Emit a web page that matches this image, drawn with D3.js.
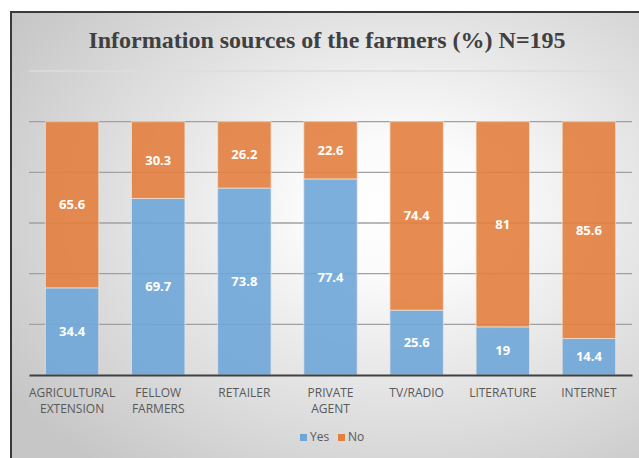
<!DOCTYPE html>
<html>
<head>
<meta charset="utf-8">
<script src="https://cdn.jsdelivr.net/npm/d3@7"></script>
<style>
  body { margin: 0; background: #fff; }
  svg { display: block; }
</style>
</head>
<body>
<svg class="chart"></svg>
<script>
var categories = ["AGRICULTURAL EXTENSION", "FELLOW FARMERS", "RETAILER", "PRIVATE AGENT", "TV/RADIO", "LITERATURE", "INTERNET"];
var yesValues = [34.4, 69.7, 73.8, 77.4, 25.6, 19, 14.4];
var noValues = [65.6, 30.3, 26.2, 22.6, 74.4, 81, 85.6];
var seriesNames = ["Yes", "No"];
var yTicks = [0, 20, 40, 60, 80, 100, 120];

var W = 639, H = 458;
var margin = {top: 71, right: 7, bottom: 83, left: 29};
var width = W - margin.left - margin.right;
var height = H - margin.top - margin.bottom;
var colors = {Yes: "#6fa6d8", No: "#e3803f"};

var svg = d3.select(".chart").attr("width", W).attr("height", H);

// background gradient + frame
var defs = svg.append("defs");
var grad = defs.append("radialGradient").attr("id", "bg")
  .attr("cx", "0.6").attr("cy", "0.42").attr("r", "0.72");
grad.append("stop").attr("offset", "0").attr("stop-color", "#ffffff");
grad.append("stop").attr("offset", "0.2").attr("stop-color", "#fbfbfb");
grad.append("stop").attr("offset", "1").attr("stop-color", "#c6c6c6");

svg.append("rect").attr("x", 11).attr("y", 12).attr("width", W + 10).attr("height", H + 10)
  .attr("fill", "url(#bg)").attr("stroke", "#3a3a3a").attr("stroke-width", 2);

svg.append("text")
  .attr("x", 327).attr("y", 48)
  .attr("text-anchor", "middle")
  .style("font-family", "'Liberation Serif', 'Times New Roman', serif")
  .style("font-weight", "bold")
  .style("font-size", "24px")
  .attr("fill", "#404040")
  .text("Information sources of the farmers (%) N=195");

var chart = svg.append("g").attr("transform", "translate(" + margin.left + "," + margin.top + ")");

var x = d3.scaleBand().domain(categories).range([0, width]).paddingInner(0.38).paddingOuter(0.19);
var y = d3.scaleLinear().domain([0, 120]).range([height, 0]);

// gridlines
chart.selectAll(".grid").data(yTicks.slice(1)).enter().append("line")
  .attr("x1", 0).attr("x2", width)
  .attr("y1", function(d){ return y(d); }).attr("y2", function(d){ return y(d); })
  .attr("stroke", function(d){ return d === 120 ? "#dcdcdc" : "#a0a0a0"; })
  .attr("stroke-width", 1.3);

var data = categories.map(function(c, i){ return {cat: c, Yes: yesValues[i], No: noValues[i]}; });
var stacked = d3.stack().keys(seriesNames)(data);

var layers = chart.selectAll(".layer").data(stacked).enter().append("g")
  .attr("fill", function(d){ return colors[d.key]; });

layers.selectAll("rect").data(function(d){ return d; }).enter().append("rect")
  .attr("x", function(d){ return x(d.data.cat); })
  .attr("y", function(d){ return y(d[1]); })
  .attr("width", x.bandwidth())
  .attr("height", function(d){ return y(d[0]) - y(d[1]); })
  .attr("fill-opacity", 0.9)
  .attr("stroke", "#f2e6dc").attr("stroke-opacity", 0.7).attr("stroke-width", 1);

layers.selectAll("text").data(function(d){ return d; }).enter().append("text")
  .attr("x", function(d){ return x(d.data.cat) + x.bandwidth() / 2; })
  .attr("y", function(d){ return (y(d[0]) + y(d[1])) / 2; })
  .attr("dy", "0.35em")
  .attr("text-anchor", "middle")
  .attr("fill", "#ffffff")
  .style("font-family", "'Open Sans', sans-serif")
  .style("font-weight", "bold")
  .style("font-size", "13px")
  .text(function(d){ return d[1] - d[0] === 0 ? "" : +(d[1] - d[0]).toFixed(1); });

// bottom axis
var xAxis = d3.axisBottom(x).tickSize(0).tickPadding(13);
var gx = chart.append("g").attr("transform", "translate(0," + height + ")").call(xAxis);
gx.select(".domain").attr("stroke", "#404040").attr("stroke-width", 2.2);
gx.selectAll("text")
  .style("font-family", "'Open Sans', sans-serif")
  .style("font-size", "12px")
  .attr("fill", "#595959")
  .each(function(d){
    var t = d3.select(this), words = d.split(" ");
    t.text(null);
    if (d === "TV/RADIO" || d === "RETAILER" || d === "LITERATURE" || d === "INTERNET") words = [d];
    words.forEach(function(w, i){
      t.append("tspan").attr("x", 0).attr("dy", i === 0 ? "0.71em" : "1.35em").text(w);
    });
  });

// legend
var legend = svg.append("g").attr("transform", "translate(300,437)");
var lx = [0, 38];
seriesNames.forEach(function(s, i){
  var g = legend.append("g").attr("transform", "translate(" + lx[i] + ",0)");
  g.append("rect").attr("x", 0).attr("y", -3).attr("width", 7).attr("height", 7).attr("fill", colors[s]);
  g.append("text").attr("x", 10).attr("y", 0).attr("dy", "0.35em")
    .style("font-family", "'Open Sans', sans-serif").style("font-size", "12px")
    .attr("fill", "#595959").text(s);
});
</script>
</body>
</html>
